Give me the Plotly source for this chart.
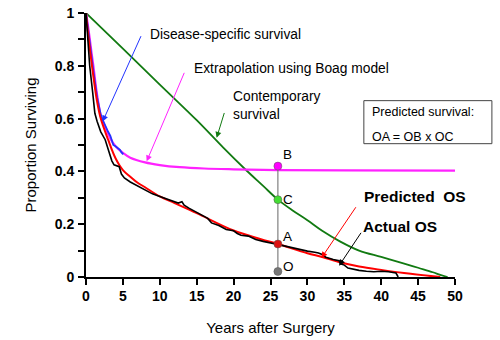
import plotly.graph_objects as go

# ---- data ----
contemp_t = [0, 5, 10, 15, 18.6, 21.5, 24, 26, 28, 30, 32, 34.4, 37, 40, 43, 45, 47, 48, 49]
contemp_s = [1.0, 0.865, 0.729, 0.594, 0.49, 0.41, 0.345, 0.293, 0.252, 0.215, 0.175, 0.135, 0.100, 0.076, 0.052, 0.035, 0.018, 0.008, 0.0]

boag_t = [0, 0.25, 0.5, 0.75, 1.0, 1.45, 2.1, 2.5, 3.25, 4.0, 5.0, 6.0, 8.0, 10.0, 12.7, 16, 20, 26, 35, 50]
boag_s = [1.0, 0.955, 0.905, 0.85, 0.80, 0.70, 0.60, 0.575, 0.527, 0.495, 0.47, 0.452, 0.434, 0.424, 0.416, 0.411, 0.408, 0.405, 0.404, 0.403]

dss_t = [0, 0.25, 0.5, 1.0, 1.5, 2.0, 2.35, 2.7, 3.0, 3.3, 3.5, 3.7, 4.0, 4.3, 4.6, 4.8, 5.05]
dss_s = [1.0, 0.94, 0.89, 0.78, 0.68, 0.615, 0.589, 0.565, 0.55, 0.535, 0.52, 0.50, 0.495, 0.487, 0.482, 0.472, 0.465]

pred_t = [0, 0.25, 0.5, 1.0, 1.5, 2.0, 3.0, 4.0, 5.0, 6.0, 7.0, 8.0, 10, 12, 15, 20, 23.6, 26, 30, 32, 34.4, 37, 40, 44, 48]
pred_s = [1.0, 0.93, 0.87, 0.76, 0.665, 0.60, 0.52, 0.45, 0.405, 0.38, 0.357, 0.34, 0.305, 0.28, 0.242, 0.176, 0.144, 0.125, 0.09, 0.076, 0.056, 0.04, 0.027, 0.012, 0.0]

actual_t = [0, 0.2, 0.5, 0.9, 1.2, 1.5, 2.0, 2.6, 3.0, 3.3, 3.5, 3.8, 4.5, 4.8, 5.2, 6.0, 7.0, 8.0, 9.0, 10.0,
            11.0, 12.0, 12.5, 13.0, 13.3, 14.0, 15.0, 16.0, 16.5, 17.0, 18.0, 19.0, 20.0, 20.5, 21.0, 22.0,
            22.5, 23.0, 24.0, 25.0, 26.0, 27.0, 28.0, 29.0, 30.0, 31.0, 31.5, 32.0, 32.5, 33.5, 34.3, 34.5,
            35.0, 35.5, 37.0, 38.0, 39.0, 40.0, 41.0, 42.0, 42.3]
actual_s = [1.0, 0.9, 0.8, 0.70, 0.62, 0.59, 0.55, 0.52, 0.48, 0.455, 0.44, 0.425, 0.418, 0.39, 0.375, 0.36, 0.345, 0.33, 0.315, 0.305,
            0.295, 0.288, 0.28, 0.285, 0.272, 0.26, 0.245, 0.228, 0.222, 0.205, 0.195, 0.18, 0.175, 0.165, 0.158, 0.155,
            0.148, 0.142, 0.135, 0.128, 0.123, 0.117, 0.11, 0.105, 0.098, 0.094, 0.091, 0.085, 0.075, 0.066, 0.062, 0.05,
            0.045, 0.034, 0.025, 0.022, 0.02, 0.022, 0.02, 0.015, 0.0]

# points on vertical line at 26 years
pt_year = 26
pt_labels = ["B", "C", "A", "O"]
pt_values = [0.42, 0.293, 0.125, 0.021]
pt_colors = ["#ff00ff", "#44dd33", "#dd1111", "#777777"]

x_ticks = [0, 5, 10, 15, 20, 25, 30, 35, 40, 45, 50]
y_ticks = [0, 0.2, 0.4, 0.6, 0.8, 1]
y_ticklabels = ["0", "0.2", "0.4", "0.6", "0.8", "1"]

FONT = "Liberation Sans, Arial, sans-serif"

fig = go.Figure()
fig.add_trace(go.Scatter(x=contemp_t, y=contemp_s, mode="lines", line=dict(color="#117a11", width=1.8), line_shape="spline"))
fig.add_trace(go.Scatter(x=boag_t, y=boag_s, mode="lines", line=dict(color="#ff22ff", width=2.2), line_shape="spline"))
fig.add_trace(go.Scatter(x=dss_t, y=dss_s, mode="lines", line=dict(color="#2233ff", width=1.8)))
fig.add_trace(go.Scatter(x=pred_t, y=pred_s, mode="lines", line=dict(color="#ff0000", width=2), line_shape="spline"))
fig.add_trace(go.Scatter(x=actual_t, y=actual_s, mode="lines", line=dict(color="#000000", width=1.6)))
fig.add_trace(go.Scatter(x=[pt_year, pt_year], y=[pt_values[-1], pt_values[0]], mode="lines",
                         line=dict(color="#808080", width=1.2)))
fig.add_trace(go.Scatter(x=[pt_year] * len(pt_values), y=pt_values, mode="markers",
                         marker=dict(size=8, color=pt_colors, line=dict(color="#555555", width=0.5))))

ann = []
# point labels
lab_offsets = [0.043, 0.0, 0.029, 0.019]
for lab, v, off in zip(pt_labels, pt_values, lab_offsets):
    ann.append(dict(x=pt_year + 0.4, y=v + off, text=lab, showarrow=False, xanchor="left", yanchor="middle",
                    font=dict(size=13.5, color="black", family=FONT)))

# arrows (tail -> head)
arrows = [
    ((7.54, 0.918), (2.26, 0.589), "#2233ff"),
    ((13.4, 0.779), (8.22, 0.438), "#ff22ff"),
    ((18.8, 0.627), (17.7, 0.527), "#117a11"),
    ((36.7, 0.27), (31.9, 0.072), "#ff0000"),
    ((37.4, 0.173), (34.3, 0.043), "#000000"),
]
for (tx, ty), (hx, hy), c in arrows:
    ann.append(dict(x=hx, y=hy, ax=tx, ay=ty, axref="x", ayref="y", xref="x", yref="y", text="",
                    showarrow=True, arrowhead=2, arrowsize=1.2, arrowwidth=1, arrowcolor=c))

texts = [
    (8.4, 0.918, "Disease-specific survival", 13.8, False),
    (14.3, 0.79, "Extrapolation using Boag model", 13.8, False),
    (19.6, 0.65, "Contemporary<br>survival", 13.8, False),
    (37.4, 0.304, "Predicted  OS", 15.5, True),
    (37.3, 0.192, "Actual OS", 15.5, True),
]
for x, y, t, s, b in texts:
    ann.append(dict(x=x, y=y, text=("<b>%s</b>" % t) if b else t, showarrow=False, xanchor="left", yanchor="middle",
                    align="left", font=dict(size=s, color="black", family=FONT)))

# box with text (paper coordinates so it may extend past the plot area)
ann.append(dict(xref="paper", yref="paper", x=0.770, y=0.625, text="Predicted survival:", showarrow=False,
                xanchor="left", yanchor="middle", font=dict(size=12.5, color="black", family=FONT)))
ann.append(dict(xref="paper", yref="paper", x=0.770, y=0.532, text="OA = OB x OC", showarrow=False,
                xanchor="left", yanchor="middle", font=dict(size=12.5, color="black", family=FONT)))
fig.add_shape(type="rect", xref="paper", yref="paper", x0=0.753, x1=1.100, y0=0.505, y1=0.668,
              line=dict(color="#444444", width=1), fillcolor="white", layer="below")

fig.update_layout(
    width=500, height=340,
    margin=dict(l=86, r=45, t=13, b=63, autoexpand=False),
    paper_bgcolor="white", plot_bgcolor="white",
    showlegend=False,
    annotations=ann,
    font=dict(family=FONT, color="black"),
    xaxis=dict(range=[0, 50], tickvals=x_ticks, ticks="outside", ticklen=6, tickwidth=1.5, tickcolor="black",
               showline=True, linecolor="black", linewidth=2, showgrid=False, zeroline=False, automargin=False,
               tickfont=dict(size=14, family=FONT, color="black", weight="bold"), ticklabelstandoff=-1,
               title=dict(text="Years after Surgery", font=dict(size=15, family=FONT, color="black"), standoff=20)),
    yaxis=dict(range=[0, 1], tickvals=y_ticks, ticktext=y_ticklabels, ticks="outside", ticklen=6, tickwidth=1.5,
               tickcolor="black", showline=True, linecolor="black", linewidth=2, showgrid=False, zeroline=False,
               automargin=False,
               minor=dict(dtick=0.1, tick0=0, ticks="outside", ticklen=6, tickwidth=1.5, tickcolor="black", showgrid=False),
               tickfont=dict(size=14, family=FONT, color="black", weight="bold"), ticklabelstandoff=1,
               title=dict(text="Proportion Surviving", font=dict(size=15, family=FONT, color="black"), standoff=14)),
)
# remove the browser's default body margin so the 500x340 figure fills the window exactly
fig.write_html("out.html", config={"displayModeBar": False},
               post_script="document.body.style.margin='0';")
